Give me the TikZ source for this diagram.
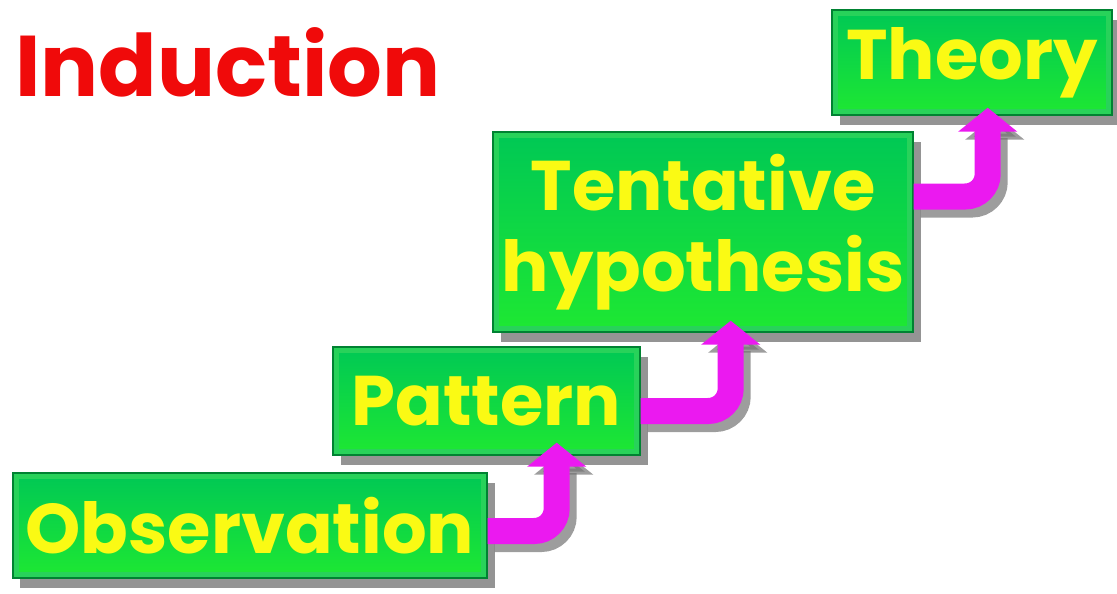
\documentclass[tikz,border=0pt]{standalone}
\usepackage{fontspec}
\setmainfont{Poppins}
\usetikzlibrary{arrows.meta,calc,shadows,positioning}

\definecolor{boxgreen}{RGB}{30,232,50}
\definecolor{boxtop}{RGB}{0,200,85}
\definecolor{boxedge}{RGB}{0,130,50}
\definecolor{bevel}{RGB}{40,210,90}
\definecolor{textyellow}{RGB}{250,250,20}
\definecolor{stepmagenta}{RGB}{235,25,240}
\definecolor{titlered}{RGB}{240,10,10}

\begin{document}
\begin{tikzpicture}[
  stair/.style={draw=boxedge,line width=0.8pt,top color=boxtop,bottom color=boxgreen,
    text=textyellow,font=\fontsize{40}{46}\selectfont\bfseries,align=center,inner sep=0pt,
    drop shadow={shadow xshift=0.15cm,shadow yshift=-0.2cm,fill=black!60,opacity=0.7},
    path picture={\draw[bevel,line width=7pt]
      (path picture bounding box.south west) rectangle (path picture bounding box.north east);}},
  climb/.style={draw=stepmagenta,line width=0.52cm,rounded corners=0.45cm,
    -{Triangle[width=1.16cm,length=0.48cm]},
    preaction={draw=black!55,line width=0.52cm,opacity=0.7,
      transform canvas={shift={(0.14,-0.16)}}}}
]
  \useasboundingbox (0,0) rectangle (22.34,-11.86);
  \node[anchor=base west,inner sep=0pt,text=titlered,font=\fontsize{49}{54}\selectfont\bfseries]
    (title) at (0.30,-1.92) {Induction};
  % the four stairs, bottom to top
  \node[stair,minimum width=9.48cm,minimum height=2.10cm] (obs) at (5.00,-10.51) {Observation};
  \node[stair,minimum width=6.14cm,minimum height=2.16cm] (pat) at (9.73,-8.02) {Pattern};
  \node[stair,minimum width=8.40cm,minimum height=4.00cm] (hyp) at (14.06,-4.64)
    {Tentative\\hypothesis};
  \node[stair,minimum width=5.60cm,minimum height=2.10cm] (the) at (19.44,-1.25) {Theory};
  % arrows up the stairs
  \draw[climb] ($(obs.east)+(0,-0.11)$) -| ($(pat.south east)+(-1.68,0.26)$);
  \draw[climb] ($(pat.east)+(0,-0.20)$) -| ($(hyp.south east)+(-3.66,0.24)$);
  \draw[climb] ($(hyp.east)+(0,0.71)$) -| ($(the.south east)+(-2.50,0.16)$);
\end{tikzpicture}
\end{document}
